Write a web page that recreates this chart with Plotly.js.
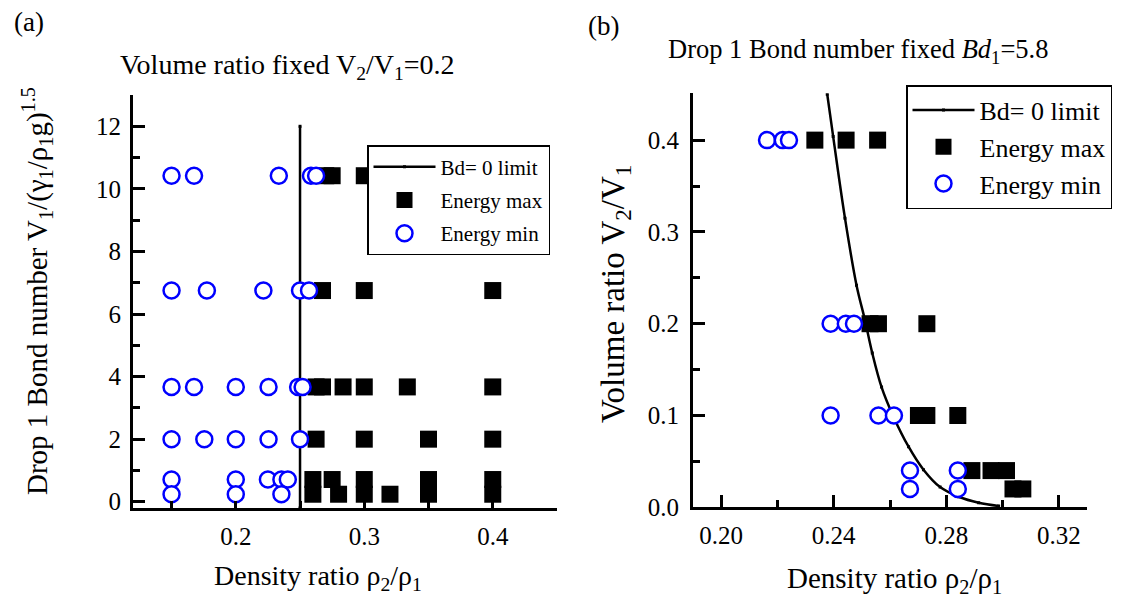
<!DOCTYPE html>
<html>
<head>
<meta charset="utf-8">
<script src="https://cdn.plot.ly/plotly-3.0.1.min.js"></script>
<style>html,body{margin:0;padding:0;background:#fff;}#chart{width:1122px;height:597px;}</style>
</head>
<body>
<div id="chart"></div>
<script>
// ---------- Panel (a): volume ratio fixed V2/V1 = 0.2 ----------
const aLimitX = [0.25, 0.25];
const aLimitY = [-0.2, 12];

const aMaxX = [0.27, 0.275, 0.3,
               0.2675, 0.3, 0.4,
               0.2625, 0.2675, 0.2835, 0.3, 0.3335, 0.4,
               0.2625, 0.3, 0.35, 0.4,
               0.26, 0.275, 0.3, 0.35, 0.4,
               0.26, 0.28, 0.3, 0.32, 0.35, 0.4];
const aMaxY = [10.42, 10.42, 10.42,
               6.75, 6.75, 6.75,
               3.67, 3.67, 3.67, 3.67, 3.67, 3.67,
               2.0, 2.0, 2.0, 2.0,
               0.71, 0.71, 0.71, 0.71, 0.71,
               0.24, 0.24, 0.24, 0.24, 0.24, 0.24];

const aMinX = [0.15, 0.1675, 0.2335, 0.2585, 0.2625,
               0.15, 0.1775, 0.2215, 0.25, 0.257,
               0.15, 0.1675, 0.2, 0.2255, 0.2485, 0.252,
               0.15, 0.1755, 0.2, 0.2255, 0.25,
               0.15, 0.2, 0.225, 0.2355, 0.2405,
               0.15, 0.2, 0.2355];
const aMinY = [10.42, 10.42, 10.42, 10.42, 10.42,
               6.75, 6.75, 6.75, 6.75, 6.75,
               3.67, 3.67, 3.67, 3.67, 3.67, 3.67,
               2.0, 2.0, 2.0, 2.0, 2.0,
               0.71, 0.71, 0.71, 0.71, 0.71,
               0.24, 0.24, 0.24];

// ---------- Panel (b): drop 1 Bond number fixed Bd1 = 5.8 ----------
const bLimitX = [0.2377, 0.2398, 0.2440, 0.2481, 0.2511, 0.2537, 0.2570, 0.2612,
                 0.2666, 0.2719, 0.2778, 0.2844, 0.2915, 0.2986];
const bLimitY = [0.450, 0.404, 0.315, 0.242, 0.204, 0.168, 0.131, 0.099,
                 0.066, 0.041, 0.022, 0.0115, 0.005, 0.0015];

const bMaxX = [0.2333, 0.2444, 0.2556,
               0.2529, 0.2559, 0.2731,
               0.2701, 0.2731, 0.2841,
               0.2891, 0.2959, 0.3014,
               0.3037, 0.3072];
const bMaxY = [0.4, 0.4, 0.4,
               0.2, 0.2, 0.2,
               0.1, 0.1, 0.1,
               0.04, 0.04, 0.04,
               0.02, 0.02];

const bMinX = [0.2163, 0.2219, 0.2241,
               0.2389, 0.2443, 0.2472,
               0.2389, 0.2559, 0.2614,
               0.2671, 0.2841,
               0.2671, 0.2841];
const bMinY = [0.4, 0.4, 0.4,
               0.2, 0.2, 0.2,
               0.1, 0.1, 0.1,
               0.04, 0.04,
               0.02, 0.02];

const legendNames = ['Bd= 0 limit', 'Energy max', 'Energy min'];

const FONT = 'Liberation Serif, Times New Roman, serif';
const W = 1122, H = 597;
const px = v => v / W;
const py = v => 1 - v / H;

const squareMarker = {symbol: 'square', size: 17, color: '#000000', line: {width: 0}};
const circleMarker = {symbol: 'circle', size: 16, color: '#ffffff', line: {width: 2.5, color: '#0000ff'}};

const traces = [
  {x: aLimitX, y: aLimitY, xaxis: 'x', yaxis: 'y', mode: 'lines+markers', name: legendNames[0],
   line: {color: '#000', width: 2.5}, marker: {symbol: 'square', size: 3, color: '#000'},
   legend: 'legend', legendgroup: 'a1', cliponaxis: true},
  {x: aMaxX, y: aMaxY, xaxis: 'x', yaxis: 'y', mode: 'markers', name: legendNames[1],
   marker: squareMarker, legend: 'legend', legendgroup: 'a2', cliponaxis: false},
  {x: aMinX, y: aMinY, xaxis: 'x', yaxis: 'y', mode: 'markers', name: legendNames[2],
   marker: circleMarker, legend: 'legend', legendgroup: 'a3', cliponaxis: false},
  {x: bLimitX, y: bLimitY, xaxis: 'x2', yaxis: 'y2', mode: 'lines+markers', name: legendNames[0],
   line: {color: '#000', width: 2.5, shape: 'spline'}, marker: {symbol: 'square', size: 3, color: '#000'},
   legend: 'legend2', cliponaxis: true},
  {x: bMaxX, y: bMaxY, xaxis: 'x2', yaxis: 'y2', mode: 'markers', name: legendNames[1],
   marker: squareMarker, legend: 'legend2', cliponaxis: false},
  {x: bMinX, y: bMinY, xaxis: 'x2', yaxis: 'y2', mode: 'markers', name: legendNames[2],
   marker: circleMarker, legend: 'legend2', cliponaxis: false}
];

const axisBase = {
  showline: true, linecolor: '#000', linewidth: 3, mirror: false,
  showgrid: false, zeroline: false,
  ticks: 'inside', tickcolor: '#000', tickwidth: 3,
  tickfont: {family: FONT, size: 25, color: '#000'},
  fixedrange: true
};

const layout = {
  width: W, height: H,
  margin: {l: 0, r: 0, t: 0, b: 0},
  paper_bgcolor: '#fff', plot_bgcolor: 'rgba(0,0,0,0)',
  font: {family: FONT, color: '#000', size: 20},
  showlegend: true,
  xaxis: Object.assign({}, axisBase, {
    domain: [px(133), px(557)], range: [0.12, 0.45],
    tick0: 0.2, dtick: 0.1, ticklen: 7, ticklabelstandoff: 4,
    minor: {dtick: 0.05, tick0: 0.15, ticks: 'inside', ticklen: 7, tickwidth: 3, tickcolor: '#000', showgrid: false},
    anchor: 'y'
  }),
  yaxis: Object.assign({}, axisBase, {
    domain: [py(508), py(95)], range: [-0.2, 13],
    tick0: 0, dtick: 2, ticklen: 12, ticklabelstandoff: 4,
    minor: {dtick: 1, tick0: 0, ticks: 'inside', ticklen: 7, tickwidth: 3, tickcolor: '#000', showgrid: false},
    anchor: 'x'
  }),
  xaxis2: Object.assign({}, axisBase, {
    domain: [px(693), px(1087)], range: [0.19, 0.33],
    tick0: 0.2, dtick: 0.04, tickformat: '.2f', ticklen: 12, ticklabelstandoff: 4,
    minor: {dtick: 0.02, tick0: 0.2, ticks: 'inside', ticklen: 7, tickwidth: 3, tickcolor: '#000', showgrid: false},
    anchor: 'y2'
  }),
  yaxis2: Object.assign({}, axisBase, {
    domain: [py(507.3), py(93.3)], range: [0, 0.451],
    tick0: 0, dtick: 0.1, tickformat: '.1f', ticklen: 12, ticklabelstandoff: 6,
    minor: {dtick: 0.05, tick0: 0, ticks: 'inside', ticklen: 7, tickwidth: 3, tickcolor: '#000', showgrid: false},
    anchor: 'x2'
  }),
  legend: {
    x: px(367), y: py(145), xanchor: 'left', yanchor: 'top',
    bgcolor: '#fff', bordercolor: '#000', borderwidth: 1.5,
    font: {family: FONT, size: 21, color: '#000'},
    traceorder: 'grouped', tracegroupgap: 3, itemwidth: 62
  },
  legend2: {
    x: px(906), y: py(85), xanchor: 'left', yanchor: 'top',
    bgcolor: '#fff', bordercolor: '#000', borderwidth: 1.5,
    font: {family: FONT, size: 26, color: '#000'},
    traceorder: 'normal', itemwidth: 62
  },
  annotations: [
    {text: '(a)', xref: 'paper', yref: 'paper', x: px(12), y: py(22), xanchor: 'left', yanchor: 'middle',
     showarrow: false, font: {family: FONT, size: 27, color: '#000'}},
    {text: '(b)', xref: 'paper', yref: 'paper', x: px(586), y: py(26), xanchor: 'left', yanchor: 'middle',
     showarrow: false, font: {family: FONT, size: 27, color: '#000'}},
    {text: 'Volume ratio fixed V<sub>2</sub>/V<sub>1</sub>=0.2', xref: 'paper', yref: 'paper',
     x: px(287), y: py(67), xanchor: 'center', yanchor: 'middle',
     showarrow: false, font: {family: FONT, size: 28, color: '#000'}},
    {text: 'Drop 1 Bond number fixed <i>Bd</i><sub>1</sub>=5.8', xref: 'paper', yref: 'paper',
     x: px(858), y: py(51), xanchor: 'center', yanchor: 'middle',
     showarrow: false, font: {family: FONT, size: 26.5, color: '#000'}},
    {text: 'Density ratio ρ<sub>2</sub>/ρ<sub>1</sub>', xref: 'paper', yref: 'paper',
     x: px(318), y: py(577), xanchor: 'center', yanchor: 'middle',
     showarrow: false, font: {family: FONT, size: 28, color: '#000'}},
    {text: 'Density ratio ρ<sub>2</sub>/ρ<sub>1</sub>', xref: 'paper', yref: 'paper',
     x: px(894), y: py(580), xanchor: 'center', yanchor: 'middle',
     showarrow: false, font: {family: FONT, size: 29, color: '#000'}},
    {text: 'Drop 1 Bond number V<sub>1</sub>/(γ<sub>1</sub>/ρ<sub>1</sub>g)<sup>1.5</sup>', xref: 'paper', yref: 'paper',
     x: px(37), y: py(291), xanchor: 'center', yanchor: 'middle', textangle: -90,
     showarrow: false, font: {family: FONT, size: 29, color: '#000'}},
    {text: 'Volume ratio V<sub>2</sub>/V<sub>1</sub>', xref: 'paper', yref: 'paper',
     x: px(615), y: py(294), xanchor: 'center', yanchor: 'middle', textangle: -90,
     showarrow: false, font: {family: FONT, size: 33, color: '#000'}}
  ]
};

Plotly.newPlot('chart', traces, layout, {displayModeBar: false});
</script>
</body>
</html>
